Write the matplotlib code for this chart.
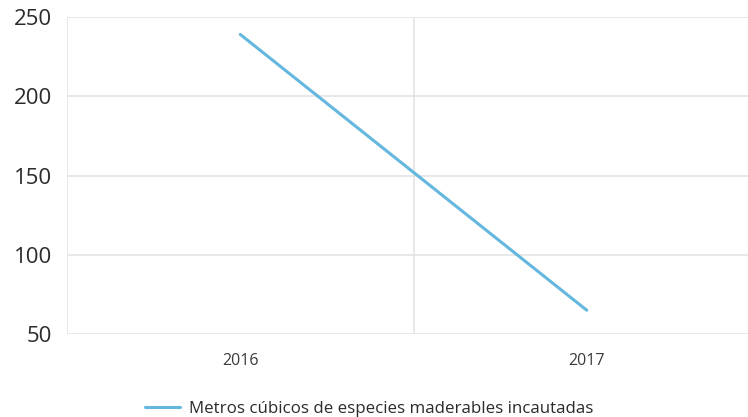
import matplotlib
matplotlib.use("Agg")
import matplotlib.pyplot as plt
from matplotlib.ticker import FixedLocator

plt.rcParams['font.family'] = ['Open Sans', 'DejaVu Sans']

years = ["2016", "2017"]
volumes = [239, 65]
series_label = "Metros cúbicos de especies maderables incautadas"
y_ticks = [50, 100, 150, 200, 250]

W, H = 748, 417
fig = plt.figure(figsize=(W / 100, H / 100), dpi=100)
left, right, top, bottom = 67, 760, 17, 334
ax = fig.add_axes([left / W, (H - bottom) / H, (right - left) / W, (bottom - top) / H])

x = list(range(len(years)))
line, = ax.plot(x, volumes, color='#64b7de', linewidth=2.2,
                solid_capstyle='round', label=series_label, zorder=3)

ax.set_xlim(-0.5, len(years) - 0.5)
ax.set_ylim(y_ticks[0], y_ticks[-1])
ax.set_xticks(x)
ax.set_xticklabels(years)
ax.set_yticks(y_ticks)
ax.xaxis.set_minor_locator(FixedLocator([i - 0.5 for i in range(len(years) + 1)]))

ax.grid(axis='y', which='major', color='#e2e2e2', linewidth=1.1)
ax.grid(axis='x', which='minor', color='#e2e2e2', linewidth=1.1)
ax.grid(axis='x', which='major', visible=False)
for s in ax.spines.values():
    s.set_visible(False)
ax.set_axisbelow(True)

ax.tick_params(axis='y', which='both', length=0, pad=11, labelsize=16, labelcolor='#2b2b2b')
ax.tick_params(axis='x', which='both', length=0, pad=13.5, labelsize=11.5, labelcolor='#3a3a3a')

fig.legend(handles=[line], loc='center', bbox_to_anchor=(369 / W, 1 - 409 / H),
           frameon=False, fontsize=12.2, handlelength=2.1, handletextpad=0.5,
           labelcolor='#2b2b2b')

fig.savefig("out.png", dpi=100)
